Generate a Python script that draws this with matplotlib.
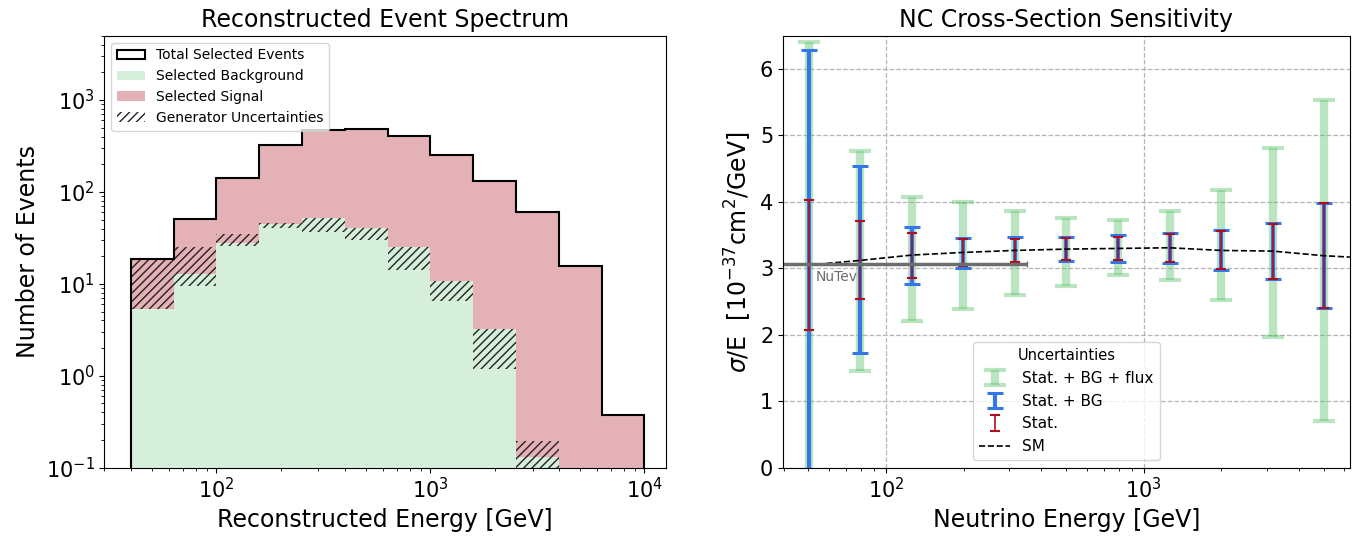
import matplotlib
matplotlib.use('Agg')
import matplotlib.pyplot as plt
from matplotlib.patches import Patch
import numpy as np

# --- left panel: reconstructed spectrum (bin edges in GeV) ---
bin_edges = [40, 63.1, 100, 158.5, 251.2, 398.1, 631, 1000, 1585, 2512, 3981, 6310, 10000]
background = [5.35, 12.8, 27.7, 45, 51.5, 40.7, 25.5, 10.7, 3.2, 0.13, 0, 0]
signal = [13.2, 37.8, 113, 278, 418, 439, 380, 239, 127, 60, 15.8, 0.37]
gen_lo = [5.35, 9.6, 26, 41, 36.5, 30, 14.3, 6.5, 1.18, 0.05, 0, 0]
gen_hi = [18.5, 25, 35, 46, 52, 40.7, 25.5, 10.7, 3.2, 0.195, 0, 0]

# --- right panel: cross-section sensitivity ---
energy = [50.1, 79.4, 125.9, 199.5, 316.2, 501.2, 794.3, 1259, 1995, 3162, 5012]
sm_val = [3.05, 3.12, 3.20, 3.24, 3.27, 3.29, 3.30, 3.31, 3.27, 3.26, 3.19]
flux_lo = [-0.3, 1.45, 2.21, 2.39, 2.60, 2.74, 2.90, 2.83, 2.53, 1.97, 0.70]
flux_hi = [6.41, 4.77, 4.07, 4.00, 3.87, 3.76, 3.73, 3.87, 4.18, 4.81, 5.53]
bg_lo = [-0.2, 1.72, 2.76, 3.01, 3.06, 3.11, 3.10, 3.08, 2.98, 2.84, 2.40]
bg_hi = [6.28, 4.54, 3.63, 3.46, 3.47, 3.47, 3.50, 3.53, 3.57, 3.68, 3.99]
stat_lo = [2.07, 2.54, 2.86, 3.03, 3.10, 3.12, 3.12, 3.09, 2.99, 2.84, 2.40]
stat_hi = [4.03, 3.71, 3.53, 3.44, 3.44, 3.45, 3.47, 3.52, 3.56, 3.67, 3.99]
sm_x = energy + [6310]
sm_y = sm_val + [3.17]
nutev_val = 3.06
nutev_range = [39.5, 351]

green = '#d5efda'
pink = '#e3b1b6'

fig = plt.figure(figsize=(13.53, 5.46), dpi=100)
ax1 = fig.add_axes([0.0772, 0.1434, 0.415, 0.791])
ax2 = fig.add_axes([0.5787, 0.1434, 0.419, 0.791])

edges = np.array(bin_edges)
widths = np.diff(edges)
bg = np.array(background)
sig = np.array(signal)
lo = np.array(gen_lo)
hi = np.array(gen_hi)

ax1.bar(edges[:-1], bg, width=widths, align='edge', color=green, lw=0)
ax1.bar(edges[:-1], sig, bottom=bg, width=widths, align='edge', color=pink, lw=0)
ax1.bar(edges[:-1], hi - lo, bottom=lo, width=widths, align='edge', fill=False,
        hatch='////', edgecolor='#222222', lw=0)
ax1.stairs(bg + sig, edges, baseline=1e-3, color='k', lw=1.5)

ax1.set_xscale('log')
ax1.set_yscale('log')
ax1.set_xlim(30, 12600)
ax1.set_ylim(0.1, 5000)
ax1.set_title('Reconstructed Event Spectrum', fontsize=17)
ax1.set_xlabel('Reconstructed Energy [GeV]', fontsize=17)
ax1.set_ylabel('Number of Events', fontsize=17)
ax1.tick_params(labelsize=15)

handles1 = [Patch(facecolor='white', edgecolor='k', lw=1.5, label='Total Selected Events'),
            Patch(facecolor=green, label='Selected Background'),
            Patch(facecolor=pink, label='Selected Signal'),
            Patch(fill=False, hatch='////', edgecolor='#222222', lw=0, label='Generator Uncertainties')]
ax1.legend(handles=handles1, loc='upper left', fontsize=10)

# right panel
e = np.array(energy)
c = np.array(sm_val)
ax2.grid(True, which='major', ls='--', color='#b5b5b5', lw=0.9)
h_flux = ax2.errorbar(e, c, yerr=[c - np.array(flux_lo), np.array(flux_hi) - c], fmt='none',
                      ecolor='#55c065', alpha=0.4, elinewidth=6, capsize=7.8, capthick=3,
                      label='Stat. + BG + flux')
h_bg = ax2.errorbar(e, c, yerr=[c - np.array(bg_lo), np.array(bg_hi) - c], fmt='none',
                    ecolor='#3578e5', elinewidth=3, capsize=6, capthick=2.2,
                    label='Stat. + BG')
h_stat = ax2.errorbar(e, c, yerr=[c - np.array(stat_lo), np.array(stat_hi) - c], fmt='none',
                      ecolor='#b30b1e', elinewidth=1.2, capsize=3.3, capthick=1.5,
                      label='Stat.')
h_sm, = ax2.plot(sm_x, sm_y, 'k--', lw=1.2, label='SM')

nutev_c = np.sqrt(nutev_range[0] * nutev_range[1])
ax2.errorbar([nutev_c], [nutev_val],
             xerr=[[nutev_c - nutev_range[0]], [nutev_range[1] - nutev_c]],
             fmt='none', ecolor='#6e6e6e', elinewidth=2.5, capsize=2.5, capthick=1)
ax2.text(53.5, 2.87, 'NuTev', color='#6e6e6e', fontsize=10, va='center')

ax2.set_xscale('log')
ax2.set_xlim(10 ** 1.6, 10 ** 3.8)
ax2.set_ylim(0, 6.5)
ax2.set_title('NC Cross-Section Sensitivity', fontsize=17)
ax2.set_xlabel('Neutrino Energy [GeV]', fontsize=17)
ax2.set_ylabel(r'$\sigma$/E  [10$^{-37}$cm$^2$/GeV]', fontsize=17)
ax2.tick_params(labelsize=15)
ax2.legend(handles=[h_flux, h_bg, h_stat, h_sm], loc='lower center',
           title='Uncertainties', fontsize=11, title_fontsize=10.5)

fig.savefig('out.png', dpi=100)
